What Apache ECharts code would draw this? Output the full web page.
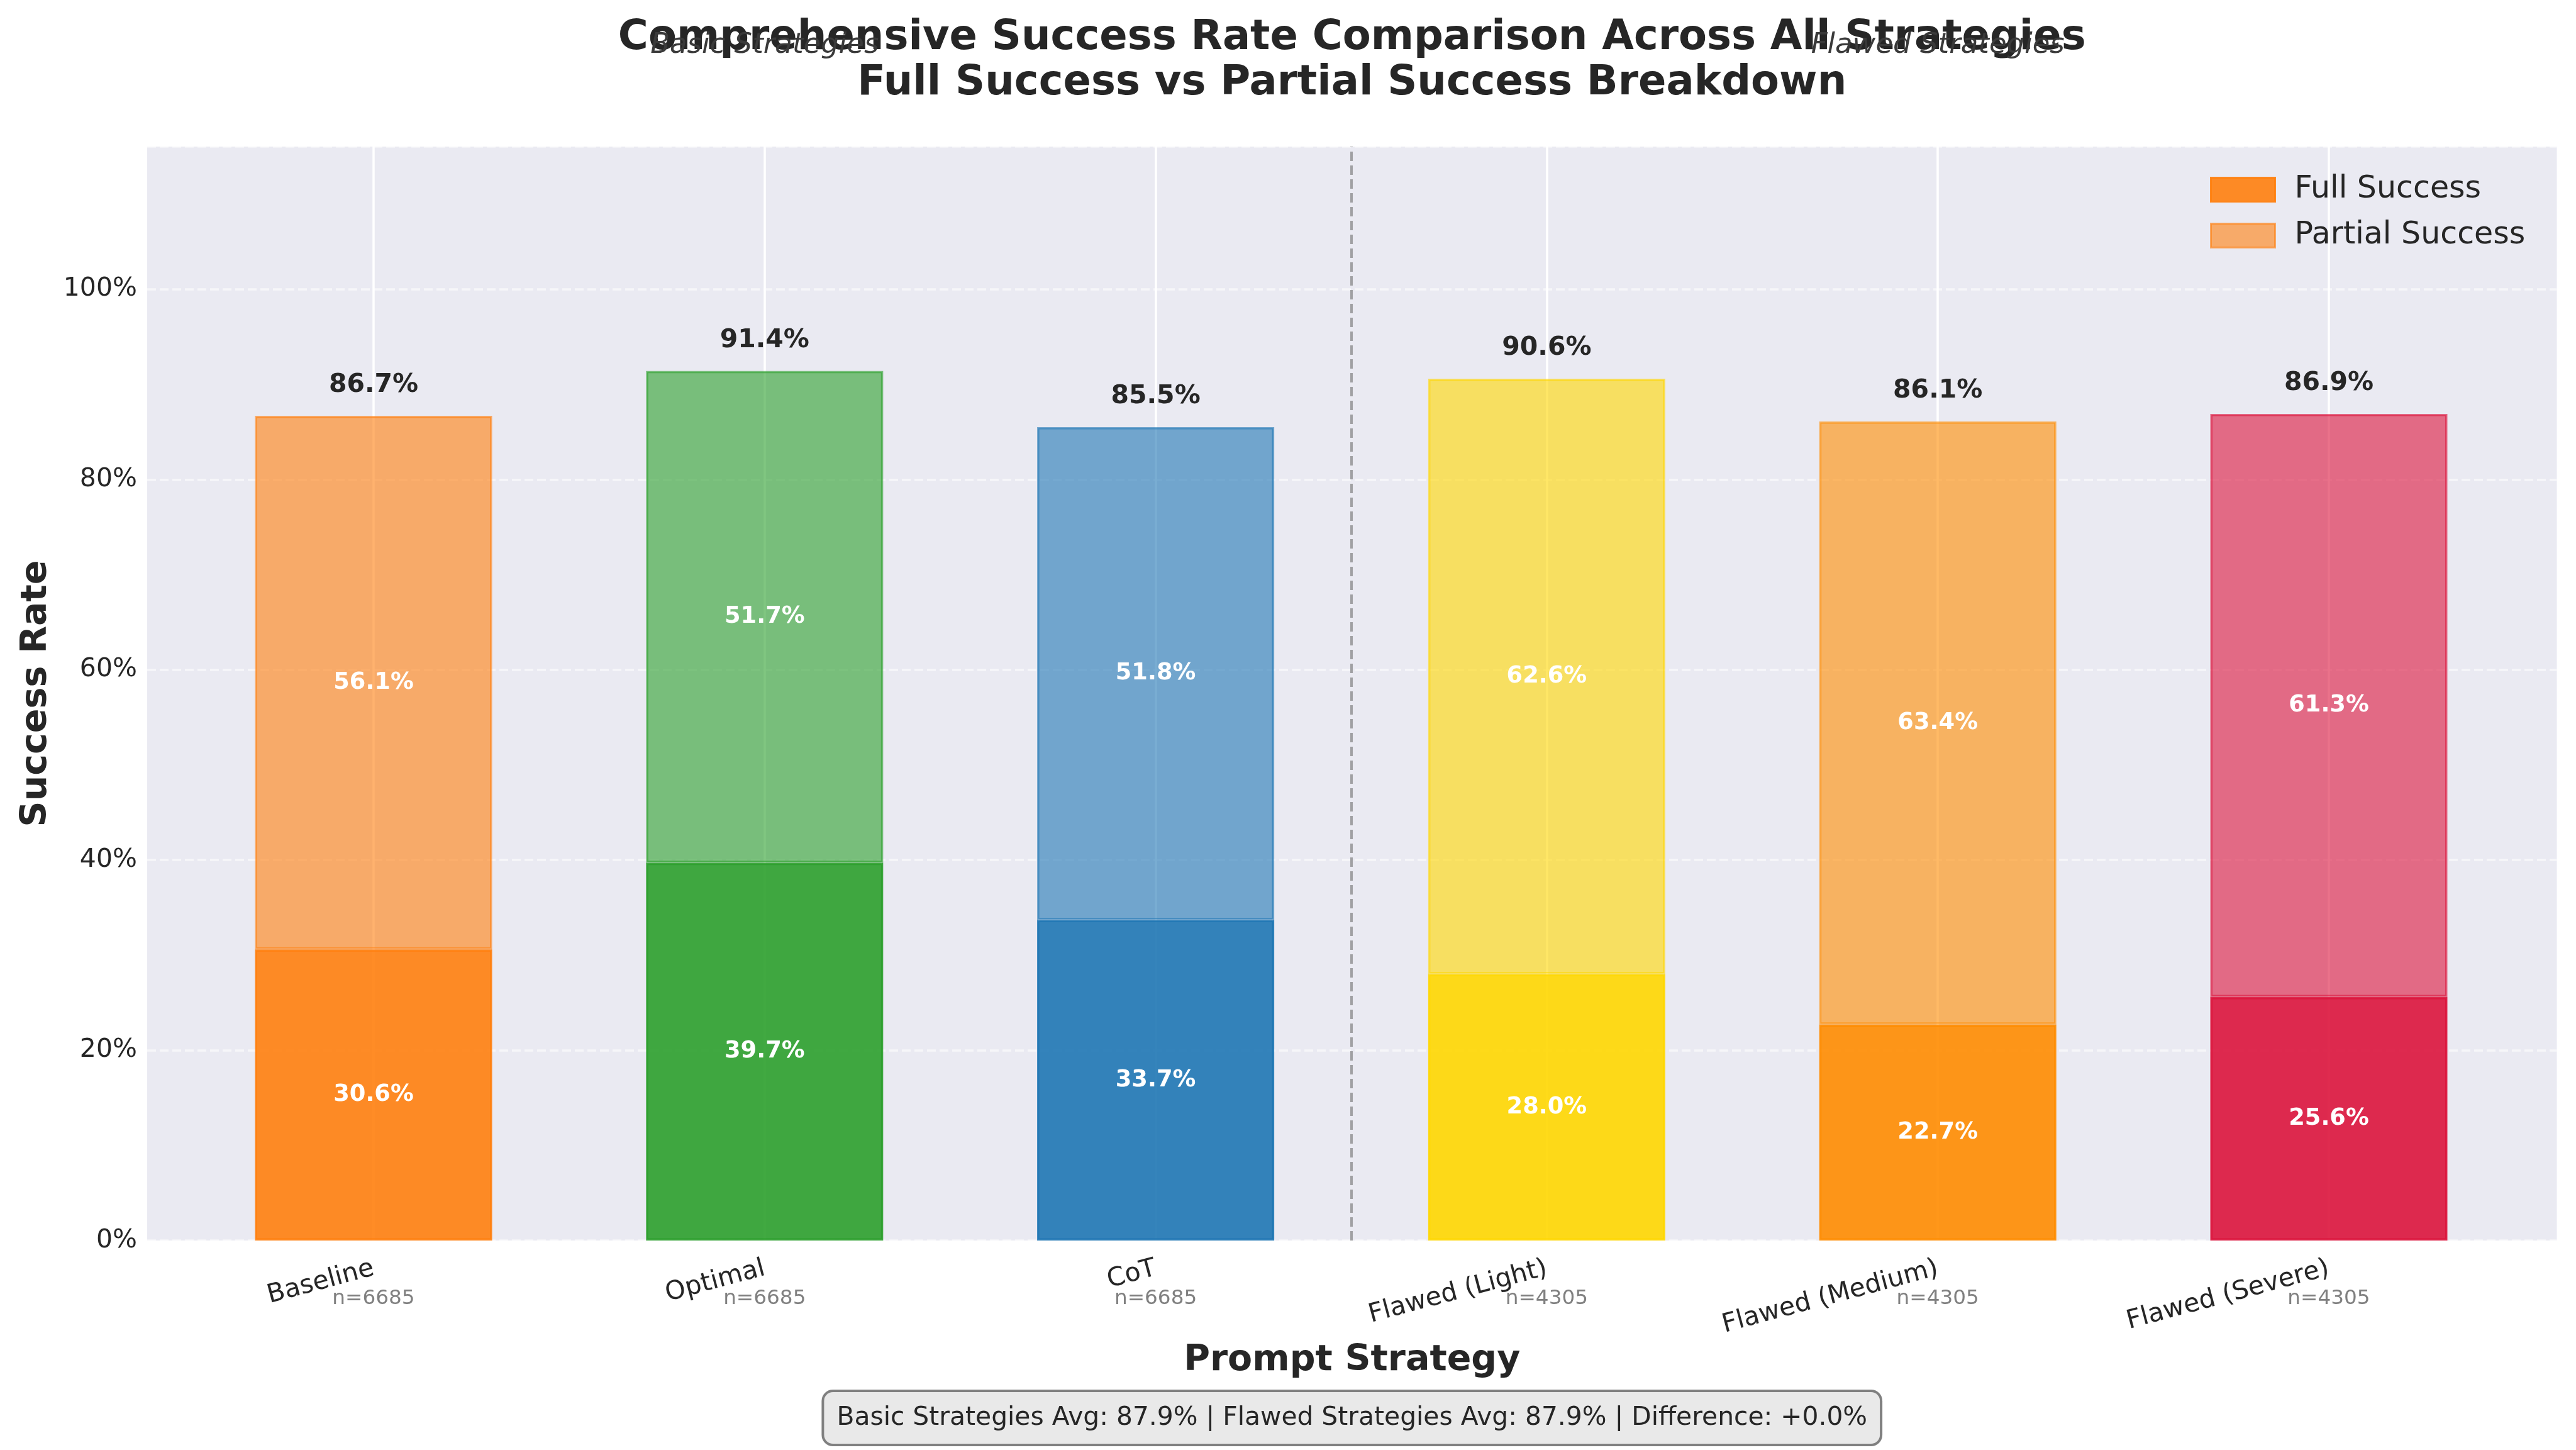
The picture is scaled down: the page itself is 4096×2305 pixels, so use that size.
<!DOCTYPE html>
<html>
<head>
<meta charset="utf-8">
<script src="https://cdn.jsdelivr.net/npm/echarts@6/dist/echarts.min.js"></script>
<style>
html,body{margin:0;padding:0;background:#fff;}
#chart{width:4096px;height:2305px;}
</style>
</head>
<body>
<div id="chart"></div>
<script>
// ---- data ----
const categories = ['Baseline', 'Optimal', 'CoT', 'Flawed (Light)', 'Flawed (Medium)', 'Flawed (Severe)'];
const fullSuccess = [30.6, 39.7, 33.7, 28.0, 22.7, 25.6];
const partialSuccess = [56.1, 51.7, 51.8, 62.6, 63.4, 61.3];
const totals = [86.7, 91.4, 85.5, 90.6, 86.1, 86.9];
const sampleSizes = [6685, 6685, 6685, 4305, 4305, 4305];
const barColors = ['#ff7f0e', '#2ca02c', '#1f77b4', '#ffd700', '#ff8c00', '#dc143c'];
const groupLabels = [{ text: 'Basic Strategies', at: 1 }, { text: 'Flawed Strategies', at: 4 }];
const separatorAt = 2.5;
const yMin = 0, yMax = 115, yInterval = 20;
const summaryText = 'Basic Strategies Avg: 87.9% | Flawed Strategies Avg: 87.9% | Difference: +0.0%';
const titleText = 'Comprehensive Success Rate Comparison Across All Strategies\nFull Success vs Partial Success Breakdown';

// ---- layout ----
const W = 4096, H = 2305;
const FONT = "'DejaVu Sans', 'Noto Sans', sans-serif";
const TXT = '#262626';
const BG = '#eaeaf2';
const bgGrid = { left: 234, right: 30.5, top: 233, bottom: 333 };
const mainGrid = { left: 594, right: 393, top: 233, bottom: 333 };
const centerX = (bgGrid.left + (W - bgGrid.right)) / 2;
const barW = 377;

const chart = echarts.init(document.getElementById('chart'), null, { renderer: 'canvas' });

const fmt = v => (typeof v === 'object' ? v.value : v).toFixed(1) + '%';

const option = {
  backgroundColor: '#ffffff',
  animation: false,
  textStyle: { fontFamily: FONT },
  grid: [
    Object.assign({ show: false, containLabel: false }, mainGrid),
    Object.assign({ show: true, backgroundColor: BG, borderWidth: 0, containLabel: false, z: -1 }, bgGrid)
  ],
  legend: {
    orient: 'vertical',
    left: 3514,
    top: 277,
    padding: 0,
    itemWidth: 102,
    itemHeight: 38,
    itemGap: 24,
    icon: 'rect',
    textStyle: { fontFamily: FONT, fontSize: 49, color: TXT, lineHeight: 49, padding: [0, 0, 0, 26] },
    data: [
      { name: 'Full Success', itemStyle: { color: barColors[0], opacity: 0.9, borderColor: barColors[0], borderWidth: 3 } },
      { name: 'Partial Success', itemStyle: { color: barColors[0], opacity: 0.6, borderColor: barColors[0], borderWidth: 3 } }
    ]
  },
  xAxis: [
    {
      type: 'category', gridIndex: 0, position: 'bottom', boundaryGap: false, data: categories,
      axisLine: { show: false }, axisTick: { show: false },
      axisLabel: { rotate: 15, margin: 44, fontSize: 41, color: TXT, fontFamily: FONT, interval: 0 },
      splitLine: { show: true, lineStyle: { color: '#ffffff', width: 3.5 } }
    },
    {
      type: 'category', gridIndex: 0, position: 'bottom', boundaryGap: false, data: categories,
      axisLine: { show: false }, axisTick: { show: false }, splitLine: { show: false },
      axisLabel: { margin: 76, fontSize: 32.7, color: '#808080', fontFamily: FONT, interval: 0,
        formatter: (v, i) => 'n=' + sampleSizes[i] }
    },
    {
      type: 'value', gridIndex: 0, min: 0, max: categories.length - 1, show: false
    },
    {
      type: 'value', gridIndex: 1, min: 0, max: 1,
      axisLine: { show: false }, axisTick: { show: false }, axisLabel: { show: false }, splitLine: { show: false },
      name: 'Prompt Strategy', nameLocation: 'middle', nameGap: 163,
      nameTextStyle: { fontSize: 57, fontWeight: 'bold', color: TXT, fontFamily: FONT }
    }
  ],
  yAxis: [
    {
      type: 'value', gridIndex: 0, min: yMin, max: yMax, interval: yInterval, show: false
    },
    {
      type: 'value', gridIndex: 1, min: yMin, max: yMax, interval: yInterval,
      axisLine: { show: false }, axisTick: { show: false },
      axisLabel: { margin: 16, fontSize: 41, color: TXT, fontFamily: FONT, showMaxLabel: false,
        padding: [10, 0, 0, 0],
        formatter: v => (v % yInterval === 0 ? v + '%' : '') },
      splitLine: { show: true, lineStyle: { color: 'rgba(255,255,255,0.55)', width: 3.5, type: [14, 6] } },
      name: 'Success Rate', nameLocation: 'middle', nameGap: 147,
      nameTextStyle: { fontSize: 57, fontWeight: 'bold', color: TXT, fontFamily: FONT }
    }
  ],
  series: [
    {
      name: 'Full Success', type: 'bar', stack: 'rate', xAxisIndex: 0, yAxisIndex: 0,
      barWidth: barW, barGap: '-100%', clip: false,
      itemStyle: { color: barColors[0], opacity: 0.9, borderColor: barColors[0], borderWidth: 3.5 },
      label: { show: true, position: 'inside', formatter: fmt, color: '#ffffff', opacity: 1, fontWeight: 'bold', fontSize: 36.8, fontFamily: FONT, padding: [10, 0, 0, 0] },
      data: fullSuccess.map((v, i) => ({ value: v, itemStyle: { color: barColors[i], borderColor: barColors[i], opacity: 0.9 } }))
    },
    {
      name: 'Partial Success', type: 'bar', stack: 'rate', xAxisIndex: 0, yAxisIndex: 0,
      barWidth: barW, barGap: '-100%', clip: false,
      itemStyle: { color: barColors[0], opacity: 0.6, borderColor: barColors[0], borderWidth: 3.5 },
      label: { show: true, position: 'inside', formatter: fmt, color: '#ffffff', opacity: 1, fontWeight: 'bold', fontSize: 36.8, fontFamily: FONT, padding: [10, 0, 0, 0] },
      data: partialSuccess.map((v, i) => ({ value: v, itemStyle: { color: barColors[i], borderColor: barColors[i], opacity: 0.6 } }))
    },
    {
      name: 'Total', type: 'bar', xAxisIndex: 0, yAxisIndex: 0,
      barWidth: barW, barGap: '-100%', clip: false, silent: true,
      itemStyle: { color: 'rgba(0,0,0,0)' },
      label: { show: true, position: 'top', distance: 28, formatter: fmt, color: TXT, fontWeight: 'bold', fontSize: 41, fontFamily: FONT },
      data: totals
    },
    {
      name: 'separator', type: 'line', xAxisIndex: 2, yAxisIndex: 0, silent: true,
      symbol: 'none', lineStyle: { width: 0 }, data: [[separatorAt, yMin]],
      markLine: {
        silent: true, symbol: 'none', label: { show: false },
        lineStyle: { color: '#a0a0a3', width: 4, type: [15, 7] },
        data: [{ xAxis: separatorAt }]
      }
    }
  ],
  graphic: []
};

chart.setOption(option);

// annotations positioned through the axes
const gfx = [];
gfx.push({
  type: 'text', x: centerX, y: 25, z: 10,
  style: { text: titleText, align: 'center', verticalAlign: 'top', fill: TXT,
    font: "bold 65.5px " + FONT, lineHeight: 72 }
});
groupLabels.forEach(g => {
  const px = chart.convertToPixel({ xAxisIndex: 0 }, g.at);
  gfx.push({
    type: 'text', x: px, y: 72, z: 11,
    style: { text: g.text, align: 'center', verticalAlign: 'middle', fill: '#3a3a3a',
      font: "italic 45px " + FONT }
  });
});
gfx.push({
  type: 'text', x: centerX, y: 2254, z: 10,
  style: { text: summaryText, align: 'center', verticalAlign: 'middle', fill: TXT,
    font: "40.8px " + FONT, lineHeight: 48, backgroundColor: '#e9e9e9', borderColor: '#808080', borderWidth: 4,
    borderRadius: 14, padding: [17, 20] }
});
chart.setOption({ graphic: gfx });
</script>
</body>
</html>
